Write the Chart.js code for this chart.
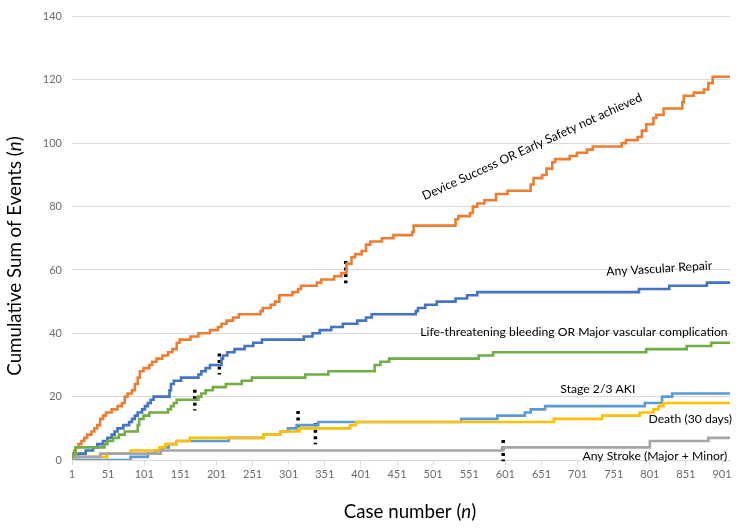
<!DOCTYPE html>
<html>
<head>
<meta charset="utf-8">
<script src="https://cdn.jsdelivr.net/npm/chart.js@4.4.1/dist/chart.umd.min.js"></script>
<style>
  html, body { margin: 0; padding: 0; background: #fff; }
  canvas { display: block; }
</style>
</head>
<body>
<canvas id="cusumChart" width="742" height="529"></canvas>
<script>
// case numbers on the x axis
const caseTicks = [1, 51, 101, 151, 201, 251, 301, 351, 401, 451, 501, 551, 601, 651, 701, 751, 801, 851, 901];
const lastCase = 912;

// cumulative events: case where the count steps up, and the count after the step
const deviceCases = [1, 2, 4, 6, 10, 14, 18, 22, 28, 32, 36, 40, 44, 48, 56, 64, 70, 74, 78, 84, 88, 92, 95, 100, 108, 112, 118, 126, 134, 140, 146, 150, 165, 176, 192, 203, 208, 215, 224, 232, 262, 265, 276, 282, 288, 306, 314, 318, 340, 346, 364, 374, 381, 388, 393, 402, 408, 414, 430, 446, 472, 474, 532, 536, 552, 556, 562, 572, 588, 604, 636, 640, 652, 658, 666, 670, 690, 700, 714, 722, 762, 768, 784, 790, 796, 806, 810, 820, 846, 848, 862, 876, 882, 888, 912];
const deviceEvents = [0, 1, 3, 4, 5, 6, 7, 8, 9, 10, 11, 13, 14, 15, 16, 17, 18, 20, 21, 22, 24, 26, 28, 29, 30, 31, 32, 33, 34, 35, 37, 38, 39, 40, 41, 42, 43, 44, 45, 46, 47, 48, 49, 50, 52, 53, 54, 55, 56, 57, 58, 59, 62, 64, 65, 66, 68, 69, 70, 71, 72, 74, 76, 77, 78, 80, 81, 82, 84, 85, 87, 89, 90, 92, 94, 95, 96, 97, 98, 99, 100, 101, 102, 104, 106, 108, 109, 111, 113, 115, 116, 117, 119, 121, 121];

const repairCases = [1, 3, 10, 20, 30, 36, 44, 50, 56, 60, 64, 72, 80, 84, 88, 92, 98, 102, 106, 110, 114, 136, 138, 142, 152, 176, 180, 186, 192, 208, 210, 216, 226, 240, 252, 264, 322, 334, 344, 360, 376, 396, 408, 416, 477, 480, 490, 506, 532, 548, 562, 786, 828, 880, 912];
const repairEvents = [0, 1, 2, 3, 4, 5, 6, 7, 8, 9, 10, 11, 12, 13, 14, 15, 16, 17, 18, 19, 20, 22, 24, 25, 26, 27, 28, 29, 30, 32, 33, 34, 35, 36, 37, 38, 39, 40, 41, 42, 43, 44, 45, 46, 47, 48, 49, 50, 51, 52, 53, 54, 55, 56, 56];

const bleedCases = [1, 2, 6, 46, 50, 58, 66, 74, 92, 94, 100, 108, 134, 138, 142, 146, 176, 180, 186, 196, 214, 236, 250, 324, 356, 420, 428, 440, 564, 584, 796, 852, 886, 912];
const bleedEvents = [0, 2, 4, 5, 6, 7, 8, 9, 11, 13, 14, 15, 16, 17, 18, 19, 20, 21, 22, 23, 24, 25, 26, 27, 28, 30, 31, 32, 33, 34, 35, 36, 37, 37];

const akiCases = [1, 82, 106, 116, 126, 135, 146, 218, 266, 290, 300, 312, 342, 540, 590, 628, 636, 656, 794, 818, 832, 912];
const akiEvents = [0, 1, 2, 3, 4, 5, 6, 7, 8, 9, 10, 11, 12, 13, 14, 15, 16, 17, 18, 20, 21, 21];

const deathCases = [1, 5, 50, 82, 122, 130, 146, 164, 266, 290, 316, 386, 394, 668, 735, 787, 806, 813, 820, 912];
const deathEvents = [0, 1, 2, 3, 4, 5, 6, 7, 8, 9, 10, 11, 12, 13, 14, 15, 16, 17, 18, 18];

const strokeCases = [1, 5, 40, 124, 598, 801, 882, 912];
const strokeEvents = [0, 1, 2, 3, 4, 6, 7, 7];

// dotted markers: case, top and bottom of the marker
const markerCases = [380, 205, 171, 314, 338, 598];
const markerTops = [62.8, 33.6, 22.2, 15.5, 11.6, 6.3];
const markerBottoms = [55.8, 27, 15.6, 8.9, 5, -0.4];

// series names written beside the lines
const seriesNames = ['Device Success OR Early Safety not achieved', 'Any Vascular Repair',
  'Life-threatening bleeding OR Major vascular complication', 'Stage 2/3 AKI',
  'Death (30 days)', 'Any Stroke (Major + Minor)'];
const nameCases = [638, 814, 696, 729, 857, 808];
const nameValues = [98.9, 60.4, 40.4, 22.3, 12.9, 1.2];
const nameAngles = [-24.6, -3.5, 0, 0, 0, 0];

function toPoints(cases, values) {
    return cases.map((c, i) => ({ x: c, y: values[i] }));
}

function stepLine(cases, values, color) {
    return {
        data: toPoints(cases, values),
        borderColor: color,
        borderWidth: 2.6,
        stepped: true,
        pointRadius: 0,
        fill: false
    };
}

const datasets = [
    stepLine(strokeCases, strokeEvents, '#a5a5a5'),
    stepLine(deathCases, deathEvents, '#ffc000'),
    stepLine(akiCases, akiEvents, '#5b9bd5'),
    stepLine(bleedCases, bleedEvents, '#70ad47'),
    stepLine(repairCases, repairEvents, '#4472c4'),
    stepLine(deviceCases, deviceEvents, '#ed7d31')
];

markerCases.forEach((c, i) => {
    datasets.push({
        data: [{ x: c, y: markerTops[i] }, { x: c, y: markerBottoms[i] }],
        borderColor: '#000',
        borderWidth: 3.5,
        borderDash: [3, 3.5],
        borderCapStyle: 'butt',
        pointRadius: 0,
        clip: false
    });
});

// text with an italic n, centred on (cx, cy)
function drawTitle(ctx, before, ital, after, cx, cy, angle) {
    const plain = '18.7px Lato';
    const italic = 'italic 18.7px Lato';
    ctx.font = plain;
    const w1 = ctx.measureText(before).width;
    const w3 = ctx.measureText(after).width;
    ctx.font = italic;
    const w2 = ctx.measureText(ital).width;
    const total = w1 + w2 + w3;
    ctx.save();
    ctx.translate(cx, cy);
    ctx.rotate(angle * Math.PI / 180);
    ctx.textAlign = 'left';
    ctx.textBaseline = 'middle';
    ctx.font = plain;
    ctx.fillText(before, -total / 2, 0);
    ctx.font = italic;
    ctx.fillText(ital, -total / 2 + w1, 0);
    ctx.font = plain;
    ctx.fillText(after, -total / 2 + w1 + w2, 0);
    ctx.restore();
}

const textPlugin = {
    id: 'textLabels',
    afterDraw(chart) {
        const { ctx, scales: { x, y } } = chart;
        ctx.save();
        ctx.fillStyle = '#000';
        ctx.textAlign = 'center';
        ctx.textBaseline = 'middle';
        ctx.font = '12.2px Lato';
        seriesNames.forEach((name, i) => {
            ctx.save();
            ctx.translate(x.getPixelForValue(nameCases[i]), y.getPixelForValue(nameValues[i]));
            ctx.rotate(nameAngles[i] * Math.PI / 180);
            ctx.fillText(name, 0, 0);
            ctx.restore();
        });
        // axis titles
        drawTitle(ctx, 'Case number (', 'n', ')', 410, 512, 0);
        drawTitle(ctx, 'Cumulative Sum of Events (', 'n', ')', 15, 256, -90);
        ctx.restore();
    }
};

const config = {
    type: 'line',
    data: { datasets: datasets },
    options: {
        responsive: false,
        animation: false,
        layout: { padding: { top: 12, right: 12, left: 0, bottom: 0 } },
        plugins: {
            legend: { display: false },
            tooltip: { enabled: false }
        },
        scales: {
            x: {
                type: 'linear',
                min: 1,
                max: lastCase,
                afterBuildTicks: (scale) => {
                    scale.ticks = caseTicks.map(v => ({ value: v }));
                },
                afterFit: (scale) => { scale.height = 69; },
                grid: { drawOnChartArea: false, tickLength: 5, color: '#d9d9d9' },
                border: { display: true, color: '#d9d9d9' },
                ticks: {
                    autoSkip: false,
                    maxRotation: 0,
                    padding: 3,
                    color: '#6b6b6b',
                    font: { family: 'Lato', size: 11 }
                }
            },
            y: {
                min: 0,
                max: 140,
                afterFit: (scale) => { scale.width = 72; },
                grid: { color: '#d9d9d9', drawTicks: false },
                border: { display: false },
                ticks: {
                    stepSize: 20,
                    padding: 10,
                    color: '#6b6b6b',
                    font: { family: 'Lato', size: 11 }
                }
            }
        }
    },
    plugins: [textPlugin]
};

const cusumChart = new Chart(document.getElementById('cusumChart'), config);
</script>
</body>
</html>
